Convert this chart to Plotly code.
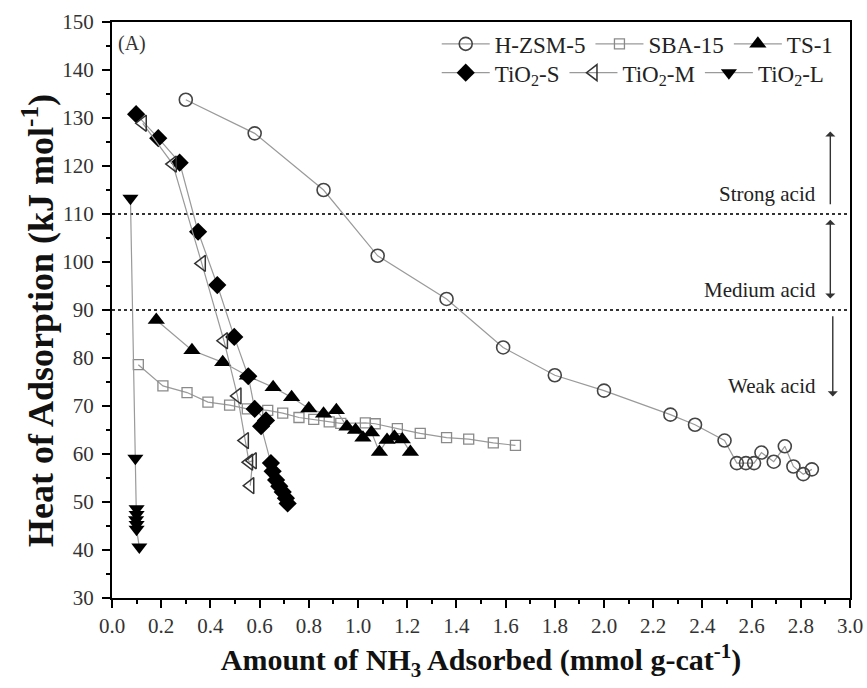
import plotly.graph_objects as go

# ---- data ----
hzsm5_x = [0.30, 0.58, 0.86, 1.08, 1.36, 1.59, 1.80, 2.00, 2.27, 2.37, 2.49, 2.54, 2.577, 2.61, 2.64, 2.69, 2.735, 2.77, 2.81, 2.845]
hzsm5_y = [133.8, 126.8, 115.0, 101.3, 92.3, 82.2, 76.4, 73.2, 68.2, 66.1, 62.8, 58.1, 58.1, 58.1, 60.3, 58.4, 61.6, 57.4, 55.8, 56.8]

sba15_x = [0.107, 0.207, 0.305, 0.39, 0.478, 0.55, 0.633, 0.694, 0.76, 0.82, 0.883, 0.93, 1.03, 1.07, 1.16, 1.253, 1.36, 1.45, 1.55, 1.64]
sba15_y = [78.6, 74.2, 72.8, 70.8, 70.2, 69.4, 69.1, 68.5, 67.6, 67.2, 66.7, 66.4, 66.5, 66.3, 65.3, 64.3, 63.4, 63.1, 62.3, 61.8]

ts1_x = [0.18, 0.325, 0.45, 0.55, 0.655, 0.73, 0.80, 0.86, 0.912, 0.955, 0.99, 1.02, 1.055, 1.087, 1.118, 1.148, 1.18, 1.213]
ts1_y = [87.9, 81.6, 79.1, 76.3, 73.9, 71.8, 69.5, 68.4, 69.1, 65.7, 65.0, 63.4, 64.5, 60.4, 62.9, 63.6, 63.0, 60.4]

tio2s_x = [0.098, 0.188, 0.275, 0.35, 0.428, 0.497, 0.554, 0.58, 0.626, 0.606, 0.646, 0.653, 0.667, 0.68, 0.694, 0.707, 0.714]
tio2s_y = [130.8, 125.8, 120.7, 106.3, 95.2, 84.4, 76.2, 69.4, 67.0, 65.8, 58.1, 56.4, 54.6, 53.3, 52.1, 50.8, 49.7]

tio2m_x = [0.125, 0.247, 0.365, 0.455, 0.51, 0.54, 0.557, 0.572, 0.562]
tio2m_y = [128.9, 120.4, 99.7, 83.6, 72.1, 62.8, 58.3, 58.6, 53.4]

tio2l_x = [0.075, 0.095, 0.10, 0.10, 0.098, 0.10, 0.10, 0.111]
tio2l_y = [113.3, 59.1, 48.6, 47.4, 46.3, 45.3, 44.3, 40.6]

x_ticks = [round(0.2 * i, 1) for i in range(16)]
x_ticklabels = ["%.1f" % v for v in x_ticks]
y_ticks = list(range(30, 151, 10))

acid_levels = [110, 90]
acid_labels = ["Strong acid", "Medium acid", "Weak acid"]
acid_label_y = [114.2, 94.2, 74.2]

FONT = "Liberation Serif"
LINE = "#9a9a9a"

fig = go.Figure()

def add(name, x, y, symbol, size, fill, edge, ew, legend):
    fig.add_trace(go.Scatter(
        x=x, y=y, name=name, mode="lines+markers",
        line=dict(color=LINE, width=1.2),
        marker=dict(symbol=symbol, size=size, color=fill,
                    line=dict(color=edge, width=ew)),
        legend=legend,
    ))

add("H-ZSM-5", hzsm5_x, hzsm5_y, "circle-open", 13, "#444", "#444", 1.6, "legend")
add("SBA-15", sba15_x, sba15_y, "square-open", 10, "#8a8a8a", "#8a8a8a", 1.3, "legend")
add("TS-1", ts1_x, ts1_y, "triangle-up", 15, "black", "black", 0, "legend")
add("TiO<sub>2</sub>-S", tio2s_x, tio2s_y, "diamond", 14, "black", "black", 0, "legend2")
add("TiO<sub>2</sub>-M", tio2m_x, tio2m_y, "triangle-left-open", 14, "#333", "#333", 1.5, "legend2")
add("TiO<sub>2</sub>-L", tio2l_x, tio2l_y, "triangle-down", 14, "black", "black", 0, "legend2")

for lv in acid_levels:
    fig.add_shape(type="line", xref="x", yref="y", x0=0, x1=3, y0=lv, y1=lv,
                  line=dict(color="#333", width=2, dash="dot"), layer="below")

ann = []
for t, yy in zip(acid_labels, acid_label_y):
    ann.append(dict(x=2.868, y=yy, xref="x", yref="y", text=t, showarrow=False,
                    xanchor="right", yanchor="middle",
                    font=dict(family=FONT, size=21, color="#222")))
ann.append(dict(x=0.081, y=145.6, xref="x", yref="y", text="(A)", showarrow=False,
                xanchor="center", yanchor="middle", font=dict(family=FONT, size=20, color="#333")))
arrow_common = dict(xref="x", yref="y", axref="x", ayref="y", text="", showarrow=True,
                    arrowhead=1, arrowsize=1.2, arrowwidth=1.4, arrowcolor="#333")
ann.append(dict(x=2.92, y=127.2, ax=2.92, ay=111.7, **arrow_common))
ann.append(dict(x=2.92, y=92.4, ax=2.92, ay=109.1, arrowside="end+start", **arrow_common))
ann.append(dict(x=2.93, y=72.0, ax=2.93, ay=89.0, **arrow_common))
# y-axis title, placed as in the reference
ann.append(dict(x=-0.1003, y=0.4826, xref="paper", yref="paper", showarrow=False,
                text="<b>Heat of Adsorption (kJ mol<sup>-1</sup>)</b>", textangle=-90,
                xanchor="center", yanchor="middle",
                font=dict(family=FONT, size=36, color="#111")))

axis_common = dict(showline=True, linecolor="black", linewidth=2, mirror=True,
                   ticks="outside", tickcolor="black", tickwidth=1.5, ticklen=8,
                   showgrid=False, zeroline=False, automargin=False,
                   tickfont=dict(family=FONT, size=21, color="#333"))

fig.update_layout(
    width=867, height=688,
    margin=dict(l=112, r=17, t=22, b=90),
    paper_bgcolor="white", plot_bgcolor="white",
    xaxis=dict(range=[0, 3], tickvals=x_ticks, ticktext=x_ticklabels,
               minor=dict(dtick=0.1, ticklen=4, ticks="outside", tickcolor="black", tickwidth=1.5),
               title=dict(text="<b>Amount of NH<sub>3</sub> Adsorbed (mmol g-cat<sup>-1</sup>)</b>",
                          font=dict(family=FONT, size=30, color="#111"), standoff=12),
               **axis_common),
    yaxis=dict(range=[30, 150], tickvals=y_ticks, ticklabelstandoff=4,
               minor=dict(dtick=5, ticklen=4, ticks="outside", tickcolor="black", tickwidth=1.5),
               **axis_common),
    legend=dict(orientation="h", x=0.44, y=0.962, xanchor="left", yanchor="middle",
                bgcolor="rgba(0,0,0,0)", itemwidth=48, tracegroupgap=0,
                font=dict(family=FONT, size=23, color="#222")),
    legend2=dict(orientation="h", x=0.44, y=0.912, xanchor="left", yanchor="middle",
                 bgcolor="rgba(0,0,0,0)", itemwidth=48, tracegroupgap=0,
                 font=dict(family=FONT, size=23, color="#222")),
    annotations=ann,
    showlegend=True,
)

fig.write_html("out.html")
